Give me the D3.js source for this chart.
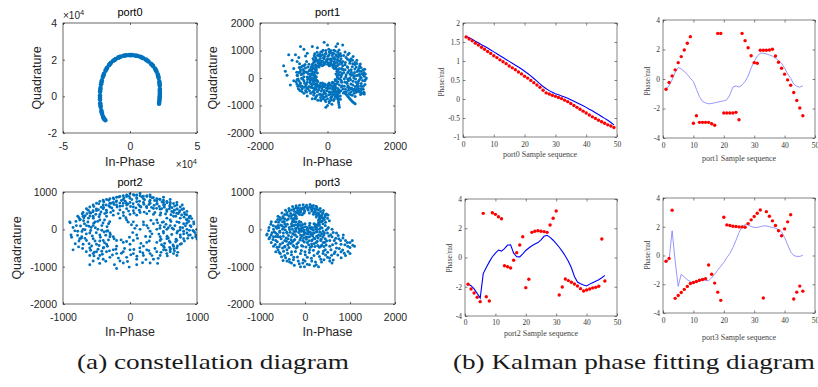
<!DOCTYPE html>
<html><head><meta charset="utf-8">
<script src="https://cdn.jsdelivr.net/npm/d3@7"></script>
<style>body{margin:0;background:#fff} svg{display:block}</style>
</head><body><svg id="c" width="818" height="387"></svg>
<script>
// ---------------- DATA ----------------
// (a) constellation scatter points [In-Phase, Quadrature]
const port0Pts = [[21700,-4000],[22000,-2000],[22200,0],[22300,2000],[22300,4000],[22200,6000],[21900,8000],[21400,10000],[20700,12000],[19800,13600],[18600,15200],[17200,16600],[15600,17800],[13800,19000],[11900,20000],[9900,20800],[7900,21500],[5800,22000],[3700,22300],[1600,22500],[-500,22500],[-2600,22400],[-4700,22100],[-6800,21700],[-8800,21100],[-10700,20300],[-12500,19400],[-14200,18300],[-15700,17000],[-17100,15600],[-18300,14000],[-19400,12300],[-20300,10500],[-21000,8600],[-21600,6600],[-22000,4600],[-22300,2500],[-22400,400],[-22400,-1700],[-22200,-3800],[-21900,-5800],[-21400,-7800],[-20800,-9600],[-20100,-11200],[-19300,-12400],[-18400,-13000],[21850,-3000],[22100,-1000],[22250,1000],[22250,3000],[22050,7000],[21050,11000],[19200,14400],[16400,17200],[12850,19500],[8900,21150],[4750,22150],[550,22500],[-3650,22250],[-7800,21400],[-11600,19850],[-14950,17650],[-17700,14800],[-19850,11400],[-21300,7600],[-22150,3550],[-22400,-650],[-22050,-4800],[-21100,-8700],[-19700,-11800]];
const port1Pts = [[450,600],[520,480],[600,380],[700,300],[800,200],[900,100],[1000,0],[1100,-100],[950,250],[850,400],[750,520],[650,650],[550,750],[480,820],[600,850],[700,700],[820,560],[950,450],[1050,300],[1120,150],[1000,-200],[900,-300],[800,-400],[700,-500],[650,-350],[750,-250],[850,-150],[950,-50],[620,-100],[540,50],[480,200],[420,350],[700,100],[780,0],[880,-250],[1060,-300],[1150,0],[1080,200],[990,380],[870,650],[760,780],[640,900],[520,950],[450,450],[520,300],[600,200],[660,0],[580,-200],[500,-300],[420,-150],[400,50],[460,-400],[560,-500],[680,-600],[790,-550],[860,-450],[920,-380],[1000,-420],[1080,-520],[980,-600],
[-350,750],[-250,800],[-150,850],[-50,900],[50,950],[150,900],[250,850],[350,800],[300,650],[200,600],[100,550],[0,500],[-100,550],[-200,600],[-300,620],[-400,650],[-450,500],[-350,450],[250,450],[350,500],[100,700],[0,700],[-100,700],[200,750],[300,950],[400,700],[-200,950],[-50,1000],[100,1000],[180,480],[-250,480],[380,600],[-380,880],
[-900,100],[-850,-100],[-800,300],[-750,-300],[-700,450],[-650,-450],[-600,200],[-550,0],[-500,-200],[-450,350],[-400,100],[-350,-100],[-300,-300],[-600,-150],[-700,50],[-800,-200],[-880,-300],[-820,-450],[-700,-550],[-600,-650],[-500,-550],[-400,-450],[-700,250],[-550,500],[-450,-350],[-350,250],[-650,-300],[-750,150],[-500,150],[-400,-50],[-900,-50],[-850,200],[-780,400],[-620,600],[-540,-30],[-330,50],[-320,-200],
[-300,-500],[-200,-600],[-100,-700],[0,-750],[100,-700],[200,-600],[300,-500],[-250,-350],[-150,-300],[0,-250],[150,-300],[250,-350],[350,-250],[-200,-800],[-50,-850],[100,-800],[250,-700],[380,-650],[50,-500],[-100,-450],[200,-450],[-350,-700],[-450,-750],[300,-750],
[200,-460],[150,-600],[100,-750],[50,-900],[0,-1000],[-50,-1060],[300,-460],[310,-600],[320,-750],[330,-900],[350,-1060],[500,-520],[570,-620],[640,-720],[710,-820],[780,-900],[820,-940],[600,-340],[700,-390],[800,-440],[900,-480],[1000,-530],[1090,-580],[-100,-500],[-150,-650],[-200,-820],
[250,150],[200,350],[50,450],[-150,450],[-330,300],[-380,100],[-330,-80],[-150,-180],[50,-180],[230,-50],[280,250],[-250,400],[150,-150],[-300,180],
[-1300,450],[-1250,250],[-1150,850],[-1100,-250],[-950,850],[-800,1150],[-700,1050],[-600,900],[-450,1150],[-300,1100],[-100,1300],[0,1200],[300,1250],[250,1150],[450,1200],[-900,600],[-1000,350],[-1050,650],[-650,800],[-850,750],[-1200,100],[-1000,-100],
[437,-283],[512,-147],[683,-62],[761,128],[823,-311],[907,-188],[968,57],[1043,-92],[1112,-238],[589,412],[662,533],[734,412],[811,327],[877,238],[945,133],[1021,151],[1089,64],[532,-412],[608,-287],[715,-371],[847,-522],[938,-465],[1012,-379],[396,-468],[472,-541],[623,-447],[693,-218],[758,-119],[831,-36],[912,281],[1058,-411],[981,-288],[877,-379],[773,-458],[568,-161],[498,-23],[432,141],[461,307],[527,563],[593,684],[671,597],[742,644],[807,489],[869,531],[933,359],[998,247],[1061,122],[1131,-41],[1102,318],[972,512],[637,275],[709,211],[783,61],[852,93],[921,-111],[597,-34],[668,147],[553,118],[411,-329],[734,-627],[818,-672],[641,-561],
[-412,563],[-337,682],[-281,541],[-213,712],[-156,613],[-87,781],[-23,652],[43,833],[117,621],[178,887],[236,683],[311,742],[377,891],[421,528],[-392,812],[-311,934],[-233,871],[-162,958],[-71,866],[12,789],[88,912],[161,707],[226,981],[283,567],[352,621],[-427,713],[-263,641],[-124,737],[-47,597],[61,681],[141,822],[207,543],[268,803],[331,864],[403,812],[-188,521],[-96,489],[22,553],[97,466],[166,388],[-361,611],[-293,828],[-198,803],[-132,1012],[37,1041],[189,1005],[343,1018],
[-912,213],[-873,-37],[-838,378],[-812,-171],[-781,128],[-752,-388],[-723,311],[-697,-112],[-664,487],[-631,-231],[-603,38],[-577,-387],[-548,268],[-519,-147],[-487,412],[-456,-268],[-428,187],[-397,-371],[-368,-12],[-341,-412],[-907,-221],[-861,-388],[-827,517],[-793,-311],[-759,-487],[-731,-41],[-688,-337],[-653,361],[-621,-512],[-592,-58],[-562,143],[-533,-463],[-503,-72],[-471,281],[-443,-511],[-413,-177],[-382,338],[-356,-241],[-322,421],[-931,-132],[-887,87],[-849,-271],[-807,231],[-768,-11],[-741,438],[-709,176],[-677,-189],[-642,221],[-609,-377],[-581,397],[-551,-308],[-522,58],[-491,-333],[-461,111],[-433,-88],[-402,-196],[-371,212],[-346,-311],
[-387,-541],[-312,-633],[-263,-437],[-208,-712],[-167,-388],[-121,-581],[-73,-798],[-21,-463],[33,-612],[78,-377],[129,-683],[172,-521],[218,-398],[266,-611],[308,-382],[353,-531],[-341,-388],[-287,-812],[-237,-587],[-183,-471],[-137,-752],[-92,-311],[-38,-663],[9,-381],[57,-842],[103,-507],[151,-411],[197,-777],[243,-483],[291,-677],[337,-433],[382,-777],[-411,-622],[-363,-757],[-221,-318],[-57,-562],[87,-588],[231,-281],[-118,-231],[22,-283],[-271,-272],
[287,73],[262,-88],[196,-211],[79,-252],[-66,-247],[-204,-192],[-312,-87],[-371,37],[-386,207],[-337,366],[-233,462],[-98,522],[52,521],[179,451],[262,338],[311,197],[331,-28],[-411,-31],[-143,-287],[139,-291],
[250,-530],[225,-680],[180,-820],[130,-950],[315,-530],[315,-680],[325,-830],[340,-980],[535,-570],[605,-670],[675,-770],[745,-860],[650,-365],[750,-415],[850,-460],[950,-505],[1040,-555],
[380,210],[352,341],[297,452],[214,541],[103,603],[-22,628],[-148,611],[-262,559],[-357,478],[-428,372],[-471,249],[-482,121],[-459,-8],[-407,-121],[-329,-214],[-228,-281],[-113,-316],[7,-318],[122,-289],[226,-228],[311,-142],[369,-37],[401,87],[331,121],[317,288],[253,401],[161,482],[42,531],[-83,537],[-203,503],[-303,432],[-373,331],[-408,212],[-402,87],[-361,-28],[-289,-123],[-193,-188],[-82,-219],[33,-213],[141,-172],[233,-99],[296,6],[277,-203],[-437,431],[-33,-377],[407,-87],[-517,312],[-512,-71],[187,-351],[433,322]];
const port2Pts = [[-700,450],[-650,550],[-600,600],[-550,650],[-500,700],[-450,750],[-400,780],[-350,800],[-300,820],[-250,840],[-200,860],[-150,880],[-100,900],[-50,920],[0,950],[50,930],[100,920],[150,900],[200,890],[250,880],[300,870],[350,850],[400,820],[450,800],[500,780],[550,750],[600,720],[650,690],[700,650],[750,600],[800,550],[850,480],[-600,450],[-500,500],[-400,550],[-300,600],[-200,650],[-100,700],[0,720],[100,740],[200,720],[300,700],[400,680],[500,650],[600,600],[700,540],[-450,400],[-350,450],[-250,500],[-150,520],[-50,550],[50,600],[150,620],[250,580],[350,560],[450,540],[550,480],[650,450],[-400,650],[-300,700],[-200,760],[-100,800],[0,830],[100,850],[200,820],[300,780],[400,760],[500,720],[600,680],[-150,620],[-50,650],[50,500],[150,450],[250,420],[350,400],[450,380],[-550,350],[0,400],[100,380],[-100,450],[-250,380],[-350,350],[700,720],[600,800],[500,860],[300,920],[150,960],[-50,880],[-250,720],[-550,500],[780,650],
[900,350],[850,250],[950,200],[800,150],[900,100],[1000,0],[950,-50],[850,-100],[750,-150],[800,-250],[700,-300],[750,-400],[650,-450],[600,-350],[700,-100],[650,0],[600,100],[700,200],[750,300],[650,350],[550,300],[500,200],[450,100],[550,0],[500,-100],[450,-200],[550,-250],[400,-350],[500,-450],[600,-550],[700,-500],[800,-50],[900,-150],[850,0],[750,50],[600,250],[400,250],[350,150],[400,0],[450,-300],[980,-200],[880,300],[820,400],[720,420],
[-900,200],[-880,-150],[-850,-550],[-800,100],[-780,-50],[-750,250],[-720,-200],[-700,0],[-680,150],[-650,-300],[-620,300],[-600,-100],[-580,50],[-550,-250],[-520,200],[-500,-400],[-480,0],[-450,-150],[-420,100],[-400,-300],[-380,250],[-350,-50],[-320,150],[-300,-200],[-700,-400],[-600,-500],[-750,-250],[-650,100],[-550,100],[-450,250],[-780,350],[-700,350],[-600,-700],[-850,50],[-500,-600],[-400,-500],
[-550,-650],[-450,-700],[-350,-600],[-300,-750],[-250,-550],[-200,-650],[-150,-850],[-100,-600],[-50,-750],[0,-550],[50,-650],[100,-800],[150,-600],[200,-700],[250,-550],[300,-650],[350,-800],[400,-600],[450,-700],[500,-550],[550,-650],[600,-600],[-200,-1050],[-100,-900],[100,-950],[300,-900],[-600,-950],[-550,-850],[-400,-800],[650,-650],[700,-700],
[-150,300],[-50,250],[50,200],[100,100],[150,0],[100,-150],[50,-300],[0,-400],[-100,-350],[-200,-300],[-250,-200],[-300,-100],[200,200],[250,100],[300,-50],[300,-200],[250,-350],[200,-450],[-350,-400],[-200,-450],
[-763,312],[-712,418],[-668,367],[-623,512],[-587,433],[-541,611],[-503,548],[-467,682],[-428,593],[-392,731],[-357,652],[-318,778],[-283,697],[-241,812],[-207,741],[-166,867],[-128,771],[-91,838],[-52,701],[-13,884],[27,796],[63,912],[102,823],[141,751],[178,868],[217,793],[253,902],[292,738],[331,846],[367,773],[406,687],[441,808],[478,731],[517,658],[553,712],[592,627],[628,581],[667,623],[703,548],[741,497],[778,532],[812,443],[847,391],[883,336],[921,288],[-742,263],[-688,311],[-641,421],[-597,356],[-553,471],[-511,402],[-471,523],[-433,466],[-394,587],[-352,512],[-317,633],[-272,571],[-238,667],[-193,596],[-152,703],[-111,628],[-71,753],[-33,671],[8,612],[47,687],[88,571],[127,663],[163,598],[207,671],[246,612],[283,663],[322,587],[361,641],[397,562],[437,613],[472,552],[511,591],[548,523],[587,547],[623,476],[662,512],[698,431],[737,462],[771,383],[807,327],[842,263],[877,211],[-176,422],[-97,367],[-21,488],[61,433],[138,512],[211,461],[288,488],[371,452],[458,437],[531,412],[611,392],[682,351],[-288,453],[-377,422],[-462,337],[-547,298],
[952,143],[911,72],[968,-88],[887,-27],[931,-233],[847,162],[873,-163],[812,-311],[786,41],[827,96],[753,-212],[768,-387],[711,-52],[733,183],[688,-263],[671,97],[642,-418],[623,-137],[611,207],[587,-312],[572,41],[553,-182],[537,133],[517,-377],[498,-58],[482,187],[463,-263],[447,31],[431,-128],[412,173],[708,-447],[657,-521],[592,-483],[537,-558],[983,-152],[1000,-261],[938,-33],[861,-241],[801,-122],[747,-18],[682,-331],[632,28],[571,-233],[513,63],[471,-411],
[-893,173],[-872,-212],[-823,-41],[-807,212],[-783,-163],[-761,-311],[-739,88],[-717,-57],[-693,233],[-672,-241],[-652,-122],[-628,197],[-611,-387],[-587,-33],[-563,-178],[-541,161],[-522,-311],[-503,-91],[-482,212],[-461,-433],[-442,-212],[-421,-23],[-403,171],[-381,-361],[-362,-158],[-343,68],[-321,-287],[-303,203],[-767,-471],[-708,-512],[-652,-602],[-588,-561],[-533,-612],[-477,-533],[-422,-587],[-817,-388],[-728,-237],[-671,-13],[-613,83],[-572,-447],[-517,42],[-451,-311],[-392,-487],[-337,-453],
[-537,-712],[-473,-783],[-412,-668],[-362,-853],[-307,-577],[-262,-688],[-211,-532],[-173,-771],[-128,-641],[-81,-512],[-37,-863],[12,-683],[58,-541],[103,-721],[147,-497],[192,-633],[238,-811],[281,-571],[327,-703],[373,-512],[421,-777],[463,-617],[511,-487],[557,-712],[603,-523],[-232,-947],[-12,-1012],[187,-897],[-452,-912],[412,-912],[663,-582],[712,-617],
[-27,193],[-63,312],[22,122],[73,27],[41,-88],[-8,-212],[-51,-327],[-133,-283],[-237,-253],[-293,-143],[-331,-37],[112,-243],[163,-377],[233,-192],[288,-311],[327,-121],[271,33],[203,121],[312,241],[-388,-71]];
const port3Pts = [[-500,300],[-450,400],[-400,450],[-350,500],[-300,520],[-250,550],[-200,570],[-150,580],[-100,560],[-50,580],[0,600],[50,580],[100,590],[150,570],[200,560],[250,540],[300,520],[350,480],[400,430],[450,380],[500,300],[-350,350],[-250,400],[-200,450],[-150,480],[-100,460],[200,450],[250,400],[300,380],[350,350],[400,300],[-300,300],[-200,350],[300,250],[350,200],[-600,350],[-550,250],[-650,200],[150,620],[-20,450],[-120,400],[250,620],
[-700,0],[-650,-100],[-600,100],[-550,-200],[-500,0],[-450,150],[-400,-100],[-350,50],[-300,-200],[-250,100],[-200,-50],[-150,150],[-100,-150],[-50,50],[0,-100],[50,0],[100,-200],[150,50],[200,-100],[250,0],[300,-150],[350,50],[400,-50],[450,100],[500,-100],[-650,-300],[-550,-400],[-450,-300],[-350,-350],[-250,-300],[-150,-350],[-50,-300],[50,-350],[150,-300],[250,-350],[350,-300],[450,-250],[-600,-200],[-500,200],[-400,250],[-300,150],[-200,200],[-100,100],[0,150],[100,100],[200,150],[300,100],[400,150],[-700,-200],[-750,-150],[-580,50],[-480,-100],[-380,-250],[-280,0],[-180,-200],[-80,-50],[20,-200],[120,-80],[220,-250],[320,0],[420,-150],[520,50],[-430,80],[-330,-80],[-230,-150],[-130,0],[-30,-230],[70,-120],[170,-180],[270,-60],[370,-120],[470,-20],
[-600,-550],[-550,-650],[-500,-500],[-450,-700],[-400,-550],[-350,-800],[-300,-600],[-250,-750],[-200,-500],[-150,-850],[-100,-650],[-50,-900],[0,-600],[50,-750],[100,-550],[150,-850],[200,-700],[250,-950],[300,-600],[350,-800],[400,-650],[450,-550],[500,-750],[550,-850],[600,-900],[-100,-1000],[100,-950],[-300,-900],[-450,-450],[-250,-450],[-50,-450],[150,-450],[350,-450],[550,-450],[-400,-850],[0,-850],[300,-1000],
[600,-200],[650,-300],[700,-100],[750,-250],[800,-400],[850,-150],[900,-300],[950,-450],[1000,-350],[1050,-300],[1100,-450],[800,-600],[900,-700],[700,-500],[650,-650],[550,-300],[600,0],[1000,-650],
[-850,-150],[-800,-250],[-750,-350],[-700,-450],[-650,-600],[-800,50],[-750,200],
[-487,341],[-433,512],[-392,388],[-357,561],[-318,427],[-276,611],[-238,487],[-197,633],[-163,512],[-121,647],[-83,537],[-41,661],[-7,497],[37,643],[71,521],[113,668],[152,488],[188,637],[227,463],[263,587],[301,433],[338,557],[371,388],[408,503],[443,337],[477,412],[-513,437],[-452,283],[-371,277],[-297,371],[-223,313],[-143,423],[-62,388],[-31,431],[97,437],[187,407],[252,331],[323,311],[388,227],[431,262],[-563,318],[-607,261],[541,233],[511,381],[-188,292],[-263,253],
[-683,-63],[-647,71],[-611,-137],[-588,187],[-562,-43],[-531,-251],[-507,93],[-483,-187],[-461,211],[-437,-21],[-412,-317],[-391,139],[-367,-163],[-343,-7],[-321,-381],[-298,83],[-272,-121],[-251,203],[-228,-271],[-207,31],[-182,-393],[-161,107],[-137,-87],[-113,-287],[-91,187],[-67,-171],[-43,-41],[-17,-341],[8,71],[31,-263],[57,-37],[82,-411],[107,163],[131,-137],[157,-287],[183,-21],[207,-377],[231,91],[257,-187],[283,-433],[307,163],[332,-77],[357,-263],[381,33],[407,-353],[431,-97],[457,187],[481,-303],[507,21],[531,-177],[-712,-273],[-663,-407],[-617,-331],[-573,-467],[-541,117],[-496,-361],[-447,-473],[-403,-77],[-356,-488],[-312,-281],[-263,-433],[-217,-147],[-171,-471],[-128,211],[-77,-433],[-27,-137],[21,-471],[67,-203],[117,-483],[171,-111],[221,-457],[271,-317],[319,-483],[373,-417],[421,-461],[469,-421],[-623,27],[-557,-81],[-473,47],[-421,-233],[-382,-411],[-287,-347],[-241,-57],[-97,-233],[-52,127],[42,-113],[93,-307],[147,-393],[201,-241],[247,-71],[291,-231],[343,-171],[397,-207],[443,-347],[-651,-191],[-733,-93],[-782,-211],[-808,-32],[-841,-123],[-759,133],[-703,93],
[-573,-612],[-521,-733],[-477,-588],[-431,-763],[-388,-641],[-341,-877],[-302,-683],[-257,-812],[-213,-597],[-168,-741],[-127,-923],[-82,-567],[-38,-812],[7,-683],[52,-937],[97,-623],[143,-777],[187,-561],[233,-873],[277,-648],[321,-731],[367,-873],[411,-583],[457,-688],[503,-617],[547,-771],[591,-697],[-237,-963],[-12,-1003],[207,-983],[421,-813],[-487,-833],[627,-823],[-623,-477],
[571,-143],[627,-87],[683,-237],[737,-163],[791,-297],[843,-233],[887,-412],[942,-351],[998,-487],[1063,-427],[612,-412],[688,-371],[761,-513],[837,-553],[873,-641],[957,-597],[729,-687],[803,-762],[668,-603],[577,-547],
[330,280],[318,362],[281,437],[222,497],[147,535],[62,549],[-24,538],[-104,503],[-169,447],[-214,374],[-237,291],[-234,203],[-207,123],[-158,56],[-93,9],[-17,-15],[63,-13],[141,11],[212,58],[268,123],[303,197],[-281,213],[-262,97],[-203,17],[-118,-47],[-19,-71],[87,-63],[183,-21],[261,41],[322,121],[363,212],[371,323],[-71,41],[53,51],[-143,121],[211,141],[-31,-31],[117,33]];

// (b) Kalman phase fitting: sample index, measured phase (red), Kalman fit (blue)
const seq49 = [1,2,3,4,5,6,7,8,9,10,11,12,13,14,15,16,17,18,19,20,21,22,23,24,25,26,27,28,29,30,31,32,33,34,35,36,37,38,39,40,41,42,43,44,45,46,47,48,49];
const seq46 = [1,2,3,4,5,6,7,8,9,10,11,12,13,14,15,16,17,18,19,20,21,22,23,24,25,26,27,28,29,30,31,32,33,34,35,36,37,38,39,40,41,42,43,44,45,46];
const k0Meas = [1.63,1.58,1.53,1.47,1.42,1.36,1.31,1.25,1.20,1.14,1.09,1.03,0.98,0.93,0.87,0.82,0.77,0.71,0.66,0.60,0.55,0.49,0.43,0.37,0.31,0.23,0.16,0.13,0.10,0.07,0.04,0.01,-0.03,-0.07,-0.12,-0.17,-0.22,-0.27,-0.32,-0.37,-0.42,-0.47,-0.51,-0.56,-0.60,-0.64,-0.68,-0.71,-0.75];
const k0Fit = [1.65,1.61,1.57,1.52,1.48,1.43,1.39,1.34,1.29,1.24,1.19,1.14,1.09,1.04,0.99,0.94,0.89,0.84,0.79,0.73,0.67,0.61,0.54,0.47,0.40,0.33,0.27,0.22,0.18,0.14,0.11,0.08,0.05,0.02,-0.02,-0.06,-0.10,-0.14,-0.18,-0.22,-0.27,-0.31,-0.36,-0.41,-0.46,-0.51,-0.56,-0.62,-0.68];
const k1Meas = [-0.69,-0.24,0.21,0.62,1.11,1.52,1.97,2.42,2.87,-3.0,-2.49,-2.94,-2.94,-2.94,-2.94,-3.03,-3.14,3.09,3.09,-2.31,-2.31,-2.31,-2.31,-2.26,-2.76,3.09,2.6,2.12,1.58,1.11,1.07,1.95,1.95,1.95,1.97,2.02,1.56,1.14,0.73,0.33,-0.06,-0.42,-0.92,-1.46,-1.97,-2.49];
const k1Fit = [-0.69,-0.45,-0.05,0.45,0.78,0.68,0.52,0.3,0.05,-0.17,-0.7,-1.2,-1.52,-1.62,-1.68,-1.66,-1.61,-1.57,-1.52,-1.48,-1.41,-1.07,-0.55,-0.46,-0.55,-0.4,-0.17,0.2,0.75,1.18,1.55,1.74,1.75,1.7,1.63,1.55,1.41,1.25,1.07,0.75,0.35,0.05,-0.35,-0.5,-0.55,-0.46];
const k2Meas = [-1.83,-2.15,-2.43,-2.72,-3.02,3.02,-2.68,-2.97,3.06,2.95,2.79,2.65,-0.56,-0.63,-0.72,-0.19,0.33,0.85,1.42,-2.06,-1.49,1.72,1.79,1.83,1.79,1.77,1.72,2.22,2.68,3.18,-2.56,-2.02,-1.47,-1.58,-1.69,-1.81,-1.95,-2.13,-2.29,-2.22,-2.15,-2.08,-2.04,-1.97,1.26,-1.61];
const k2Fit = [-1.83,-1.93,-2.15,-2.45,-2.78,-1.1,-0.68,-0.3,0.05,0.3,0.51,0.44,0.6,0.85,0.86,0.3,0.05,0.04,0.25,0.48,0.65,0.8,0.92,1.02,1.2,1.45,1.52,1.38,1.18,0.95,0.7,0.42,0.1,-0.25,-0.7,-1.3,-1.68,-1.8,-1.88,-1.95,-1.82,-1.72,-1.62,-1.52,-1.38,-1.22];
const k3Meas = [-0.4,-0.2,3.15,-2.98,-2.78,-2.57,-2.36,-2.15,-1.95,-1.88,-1.81,-1.72,-1.67,-1.62,-0.66,-1.3,-1.92,-2.55,-3.12,2.66,2.13,2.09,2.04,2.02,1.99,1.99,1.97,2.22,2.48,2.71,2.94,3.17,-2.96,3.05,2.73,2.41,2.09,1.72,1.37,1.85,2.34,2.84,-3.03,-2.55,-2.13,-2.48];
const k3Fit = [-0.4,-0.3,1.72,-0.4,-2.15,-1.3,-1.5,-1.68,-1.82,-1.92,-1.86,-1.78,-1.71,-1.72,-1.76,-1.55,-1.3,-1.02,-0.75,-0.48,-0.15,0.15,0.55,1.05,1.6,2.0,2.15,2.12,2.02,1.95,1.96,2.0,2.06,2.06,2.0,1.96,1.9,1.8,1.65,1.25,0.75,0.25,0.0,-0.06,-0.06,0.01];

const xTicksK = [0,10,20,30,40,50];
const yTicksK0 = [-1,-0.5,0,0.5,1,1.5,2];
const yTicksK = [-4,-2,0,2,4];

// ---------------- DRAW ----------------
const svg = d3.select('#c');
svg.append('rect').attr('width',818).attr('height',387).attr('fill','#fff');
const defs = svg.append('defs');

function styleAxis(sel, font, size, color, lw) {
  sel.select('.domain').remove();
  sel.selectAll('.tick line').attr('stroke', color).attr('stroke-width', lw);
  sel.selectAll('.tick text').attr('font-family', font).attr('font-size', size).attr('fill', color);
}

function frame(g, x, y, b, xt, yt, xf, yf, o) {
  const bx = g.append('g').attr('transform',`translate(0,${b.y1})`)
    .call(d3.axisBottom(x).tickValues(xt).tickFormat(xf).tickSizeInner(-o.tick).tickSizeOuter(0).tickPadding(o.xpad));
  styleAxis(bx, o.font, o.fs, o.col, o.lw);
  const lx = g.append('g').attr('transform',`translate(${b.x0},0)`)
    .call(d3.axisLeft(y).tickValues(yt).tickFormat(yf).tickSizeInner(-o.tick).tickSizeOuter(0).tickPadding(o.ypad));
  styleAxis(lx, o.font, o.fs, o.col, o.lw);
  const tx = g.append('g').attr('transform',`translate(0,${b.y0})`)
    .call(d3.axisTop(x).tickValues(xt).tickFormat('').tickSizeInner(-o.tick).tickSizeOuter(0));
  styleAxis(tx, o.font, o.fs, o.col, o.lw);
  const rx = g.append('g').attr('transform',`translate(${b.x1},0)`)
    .call(d3.axisRight(y).tickValues(yt).tickFormat('').tickSizeInner(-o.tick).tickSizeOuter(0));
  styleAxis(rx, o.font, o.fs, o.col, o.lw);
  g.append('rect').attr('x',b.x0).attr('y',b.y0).attr('width',b.x1-b.x0).attr('height',b.y1-b.y0)
    .attr('fill','none').attr('stroke',o.col).attr('stroke-width',o.lw);
}

const sansOpt = {font:'"Liberation Sans", Arial, sans-serif', fs:10.5, col:'#262626', lw:0.7, tick:2, xpad:10, ypad:6};

function scatterPanel(p) {
  const b = p.box;
  const g = svg.append('g');
  const x = d3.scaleLinear().domain(p.xd).range([b.x0, b.x1]);
  const y = d3.scaleLinear().domain(p.yd).range([b.y1, b.y0]);
  defs.append('clipPath').attr('id', 'cl'+p.id).append('rect')
    .attr('x',b.x0).attr('y',b.y0).attr('width',b.x1-b.x0).attr('height',b.y1-b.y0);
  g.append('g').attr('clip-path',`url(#cl${p.id})`).selectAll('circle').data(p.pts).join('circle')
    .attr('cx', d => x(d[0])).attr('cy', d => y(d[1])).attr('r', p.r).attr('fill', '#0072BD');
  frame(g, x, y, b, p.xt, p.yt, p.xf, p.yf, sansOpt);
  const cx = (b.x0 + b.x1) / 2;
  g.append('text').attr('x', cx).attr('y', p.titleY).attr('text-anchor','middle')
    .attr('font-family', sansOpt.font).attr('font-size', 11).attr('fill','#000').text(p.title);
  g.append('text').attr('x', cx).attr('y', p.xlabY).attr('text-anchor','middle')
    .attr('font-family', sansOpt.font).attr('font-size', 12.5).attr('fill','#262626').text('In-Phase');
  g.append('text').attr('transform',`translate(${p.ylabX},${(b.y0+b.y1)/2}) rotate(-90)`).attr('dy','0.35em')
    .attr('text-anchor','middle').attr('font-family', sansOpt.font).attr('font-size', 12.5).attr('fill','#262626').text('Quadrature');
  return g;
}

function expoLabel(g, xPos, yPos, anchor) {
  const t = g.append('text').attr('x', xPos).attr('y', yPos).attr('text-anchor', anchor)
    .attr('font-family', sansOpt.font).attr('font-size', 10).attr('fill', '#262626');
  t.append('tspan').text('\u00d710');
  t.append('tspan').attr('dy', -4).attr('font-size', 7.5).text('4');
}

const g0 = scatterPanel({id:0, pts:port0Pts, r:2.3, box:{x0:63,x1:197,y0:23,y1:133},
  xd:[-50000,50000], yd:[-20000,40000], xt:[-50000,0,50000], yt:[-20000,0,20000,40000],
  xf:d=>d/10000, yf:d=>d/10000, title:'port0', titleY:16, xlabY:166, ylabX:37});
expoLabel(g0, 63, 19, 'start');
expoLabel(g0, 197, 168, 'end');

scatterPanel({id:1, pts:port1Pts, r:1.5, box:{x0:260,x1:395,y0:23,y1:133},
  xd:[-2000,2000], yd:[-2000,2000], xt:[-2000,0,2000], yt:[-2000,-1000,0,1000,2000],
  xf:d=>d, yf:d=>d, title:'port1', titleY:16, xlabY:166, ylabX:213});

scatterPanel({id:2, pts:port2Pts, r:1.45, box:{x0:63,x1:197,y0:192,y1:304},
  xd:[-1000,1000], yd:[-2000,1000], xt:[-1000,0,1000], yt:[-2000,-1000,0,1000],
  xf:d=>d, yf:d=>d, title:'port2', titleY:186, xlabY:336, ylabX:17});

scatterPanel({id:3, pts:port3Pts, r:1.5, box:{x0:260,x1:395,y0:192,y1:304},
  xd:[-1000,2000], yd:[-2000,1000], xt:[-1000,0,1000,2000], yt:[-2000,-1000,0,1000],
  xf:d=>d, yf:d=>d, title:'port3', titleY:186, xlabY:336, ylabX:213});

const serifOpt = {font:'"Liberation Serif", "Times New Roman", serif', fs:7.5, col:'#333', lw:0.6, tick:2.5, xpad:5, ypad:3};

function kalmanPanel(p) {
  const b = p.box;
  const g = svg.append('g');
  const x = d3.scaleLinear().domain([0,50]).range([b.x0, b.x1]);
  const y = d3.scaleLinear().domain(p.yd).range([b.y1, b.y0]);
  const o = Object.assign({}, serifOpt, {xpad: p.xpad});
  frame(g, x, y, b, xTicksK, p.yt, d=>d, d=>d, o);
  const line = d3.line().x((d,i) => x(p.seq[i])).y(d => y(d));
  g.append('path').datum(p.fit).attr('d', line).attr('fill','none')
    .attr('stroke', p.lineCol).attr('stroke-width', p.lineW);
  g.selectAll('circle.m').data(p.meas).join('circle').attr('class','m')
    .attr('cx', (d,i) => x(p.seq[i])).attr('cy', d => y(d)).attr('r', 1.7).attr('fill', '#ff0000');
  g.append('text').attr('x', (b.x0+b.x1)/2).attr('y', p.xlabY).attr('text-anchor','middle')
    .attr('font-family', serifOpt.font).attr('font-size', 8).attr('fill', '#444').text(p.xlab);
  g.append('text').attr('transform',`translate(${p.ylabX},${p.ylabCY}) rotate(-90)`).attr('dy','0.35em')
    .attr('text-anchor','middle').attr('font-family', serifOpt.font).attr('font-size', 7.5).attr('fill','#444').text('Phase/rad');
}

kalmanPanel({box:{x0:463,x1:617,y0:23,y1:137}, yd:[-1,2], yt:yTicksK0, seq:seq49, meas:k0Meas, fit:k0Fit,
  lineCol:'#0000ff', lineW:1.1, xlab:'port0 Sample sequence', xlabY:157, ylabX:441, ylabCY:82, xpad:5});
kalmanPanel({box:{x0:663,x1:815,y0:20,y1:138}, yd:[-4,4], yt:yTicksK, seq:seq46, meas:k1Meas, fit:k1Fit,
  lineCol:'#7b7bff', lineW:0.8, xlab:'port1 Sample sequence', xlabY:161, ylabX:647, ylabCY:81, xpad:5});
kalmanPanel({box:{x0:465,x1:617,y0:199,y1:316}, yd:[-4,4], yt:yTicksK, seq:seq46, meas:k2Meas, fit:k2Fit,
  lineCol:'#0000ff', lineW:1.1, xlab:'port2 Sample sequence', xlabY:336, ylabX:449, ylabCY:258, xpad:4});
kalmanPanel({box:{x0:663,x1:815,y0:198,y1:313}, yd:[-4,4], yt:yTicksK, seq:seq46, meas:k3Meas, fit:k3Fit,
  lineCol:'#7b7bff', lineW:0.8, xlab:'port3 Sample sequence', xlabY:340, ylabX:647, ylabCY:255, xpad:5});

// captions
svg.append('text').attr('x', 77).attr('y', 369).attr('font-family','"Liberation Serif", serif').attr('font-size', 21)
  .attr('fill','#1a1a1a').attr('textLength', 272).attr('lengthAdjust','spacingAndGlyphs').text('(a) constellation diagram');
svg.append('text').attr('x', 453).attr('y', 369).attr('font-family','"Liberation Serif", serif').attr('font-size', 21)
  .attr('fill','#1a1a1a').attr('textLength', 362).attr('lengthAdjust','spacingAndGlyphs').text('(b) Kalman phase fitting diagram');
</script></body></html>
